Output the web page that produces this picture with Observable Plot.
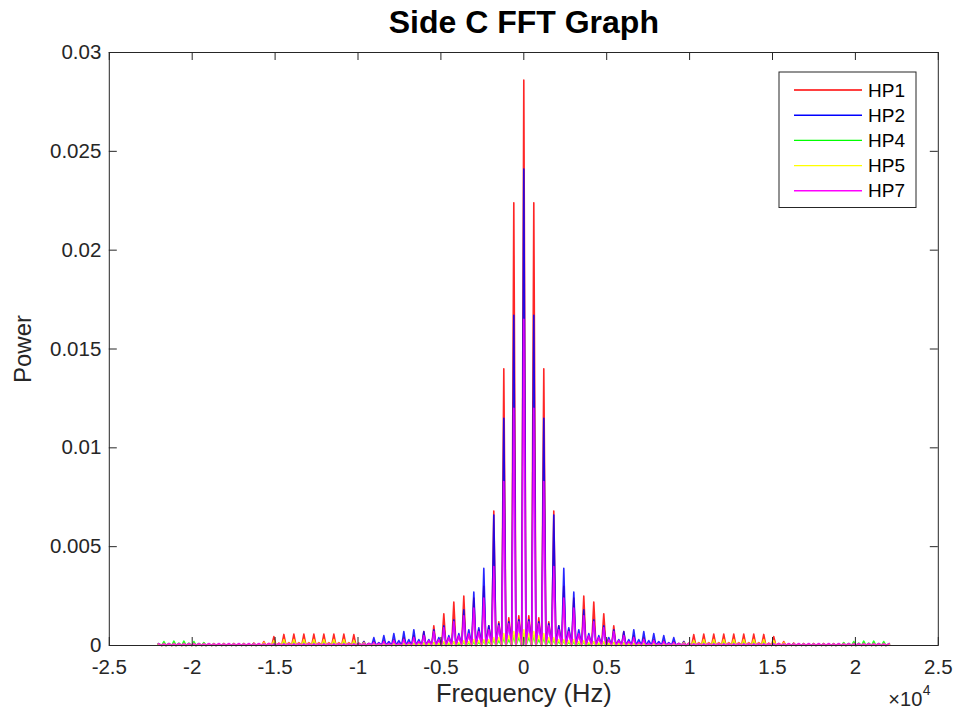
<!DOCTYPE html>
<html><head><meta charset="utf-8">
<script src="https://cdn.jsdelivr.net/npm/d3@7"></script>
<script src="https://cdn.jsdelivr.net/npm/@observablehq/plot@0.6"></script>
<style>
body{margin:0;background:#fff;}
#chart{position:relative;width:954px;height:713px;overflow:hidden;}
</style></head><body><div id="chart"></div>
<script>
// ---- data (power per harmonic bin, k = 0..36, mirrored for negative frequencies)
const seriesNames = ["HP1", "HP2", "HP4", "HP5", "HP7"];
const seriesColors = ["#ff0000", "#0000ff", "#00ff00", "#ffff00", "#ff00ff"];
const binSpacingHz = 603;
const nyquistHz = 22050;

const peaksHP1 = [0.0286, 0.0224, 0.0140, 0.0068, 0.0030, 0.0024, 0.0025, 0.0022, 0.0016, 0.0010, 0.0007, 0.0005, 0.0004, 0.0003, 0.00025, 0.0002, 0.0002, 0.00055, 0.00058, 0.00058, 0.00058, 0.00058, 0.00058, 0.00058, 0.00056, 0.00045, 0.0002, 0.00012, 0.0001, 0.0001, 0.0001, 0.00008, 0.00008, 0.00008, 0.00008, 0.00008, 0.00006];
const peaksHP2 = [0.0241, 0.0167, 0.0115, 0.0066, 0.0039, 0.0027, 0.0018, 0.0013, 0.0010, 0.0008, 0.0007, 0.0008, 0.0007, 0.0006, 0.0005, 0.0004, 0.0002, 0.00012, 0.0001, 0.0001, 0.0001, 0.0001, 0.0001, 0.0001, 0.0001, 0.0001, 0.0001, 0.0001, 0.00008, 0.00008, 0.00008, 0.00008, 0.00008, 0.00008, 0.00008, 0.00008, 0.00006];
const peaksHP4 = [0.0006, 0.0005, 0.0004, 0.0003, 0.00025, 0.0002, 0.0002, 0.00018, 0.00015, 0.00015, 0.00012, 0.0001, 0.0001, 0.0001, 0.0001, 0.0001, 0.00015, 0.0002, 0.0002, 0.0002, 0.0002, 0.0002, 0.0002, 0.0002, 0.0002, 0.00015, 0.0001, 0.0001, 0.0001, 0.0001, 0.0001, 0.0001, 0.00015, 0.0002, 0.00022, 0.00022, 0.0002];
const peaksHP5 = [0.0008, 0.0007, 0.0006, 0.0004, 0.0003, 0.0003, 0.00025, 0.0002, 0.0002, 0.00015, 0.00012, 0.0001, 0.0001, 0.0001, 0.0001, 0.0001, 0.00015, 0.00025, 0.0003, 0.0003, 0.0003, 0.0003, 0.0003, 0.0003, 0.0003, 0.00025, 0.00015, 0.0001, 0.0001, 0.0001, 0.0001, 0.0001, 0.0001, 0.0001, 0.0001, 0.0001, 0.0001];
const peaksHP7 = [0.0165, 0.0120, 0.0083, 0.0040, 0.0024, 0.0019, 0.0015, 0.0012, 0.0009, 0.0007, 0.0005, 0.0004, 0.0003, 0.00025, 0.0002, 0.00015, 0.00012, 0.0001, 0.0001, 0.0001, 0.0001, 0.0001, 0.0001, 0.0001, 0.0001, 0.0001, 0.0001, 0.0001, 0.0001, 0.0001, 0.0001, 0.0001, 0.0001, 0.0001, 0.0001, 0.0001, 0.0001];

// side-lobe level between harmonic k and k+1 (k = 0..35)
const lobesHP1 = [0.0015, 0.0014, 0.0012, 0.0010, 0.0008, 0.0006, 0.0005, 0.0004, 0.0003, 0.00025, 0.0002, 0.00015, 0.0001, 0.0001, 0.0001, 0.0001, 0.00012, 0.00015, 0.00015, 0.00015, 0.00015, 0.00015, 0.00015, 0.00015, 0.00012, 0.0001, 0.00008, 0.00006, 0.00006, 0.00006, 0.00006, 0.00006, 0.00006, 0.00006, 0.00006, 0.00006];
const lobesHP2 = [0.0013, 0.0012, 0.0011, 0.0010, 0.0009, 0.0008, 0.0006, 0.0005, 0.0004, 0.0003, 0.0003, 0.0003, 0.00025, 0.0002, 0.00015, 0.0001, 0.00008, 0.00006, 0.00006, 0.00006, 0.00006, 0.00006, 0.00006, 0.00006, 0.00006, 0.00006, 0.00006, 0.00006, 0.00006, 0.00006, 0.00006, 0.00006, 0.00006, 0.00006, 0.00006, 0.00006];
const lobesHP4 = [0.0004, 0.0003, 0.00025, 0.0002, 0.00015, 0.00012, 0.0001, 0.0001, 0.00008, 0.00008, 0.00006, 0.00006, 0.00006, 0.00006, 0.00006, 0.00006, 0.00008, 0.0001, 0.0001, 0.0001, 0.0001, 0.0001, 0.0001, 0.0001, 0.00008, 0.00006, 0.00006, 0.00006, 0.00006, 0.00006, 0.00006, 0.00008, 0.0001, 0.00012, 0.00012, 0.0001];
const lobesHP5 = [0.0006, 0.0005, 0.0004, 0.0003, 0.00025, 0.0002, 0.00015, 0.00012, 0.0001, 0.0001, 0.00008, 0.00008, 0.00006, 0.00006, 0.00006, 0.00006, 0.00008, 0.00012, 0.00012, 0.00012, 0.00012, 0.00012, 0.00012, 0.00012, 0.0001, 0.00008, 0.00006, 0.00006, 0.00006, 0.00006, 0.00006, 0.00006, 0.00006, 0.00006, 0.00006, 0.00006];
const lobesHP7 = [0.0012, 0.0011, 0.0010, 0.0008, 0.0007, 0.0006, 0.0005, 0.0004, 0.0003, 0.00025, 0.0002, 0.00015, 0.0001, 0.0001, 0.0001, 0.0001, 0.0001, 0.0001, 0.0001, 0.0001, 0.0001, 0.0001, 0.0001, 0.0001, 0.0001, 0.0001, 0.0001, 0.0001, 0.0001, 0.0001, 0.0001, 0.0001, 0.0001, 0.0001, 0.0001, 0.0001];

const xTicks = [-25000, -20000, -15000, -10000, -5000, 0, 5000, 10000, 15000, 20000, 25000];
const yTicks = [0, 0.005, 0.01, 0.015, 0.02, 0.025, 0.03];
const titleText = "Side C FFT Graph";
const xLabel = "Frequency (Hz)";
const yLabel = "Power";

// ---- build line tables from the arrays
const peakSets = [peaksHP1, peaksHP2, peaksHP4, peaksHP5, peaksHP7];
const lobeSets = [lobesHP1, lobesHP2, lobesHP4, lobesHP5, lobesHP7];
const spikeHalfWidth = 130;
function spectrum(name, peaks, lobes) {
  const K = peaks.length - 1;
  const pts = [{series: name, f: -nyquistHz, p: lobes[K - 1]}];
  for (let k = -K; k <= K; k++) {
    const f = k * binSpacingHz;
    pts.push({series: name, f: f - spikeHalfWidth, p: 0});
    pts.push({series: name, f: f, p: peaks[Math.abs(k)]});
    pts.push({series: name, f: f + spikeHalfWidth, p: 0});
    if (k < K) pts.push({series: name, f: f + binSpacingHz / 2, p: lobes[k >= 0 ? k : -(k + 1)]});
  }
  pts.push({series: name, f: nyquistHz, p: lobes[K - 1]});
  return pts;
}
const tables = seriesNames.map((n, i) => spectrum(n, peakSets[i], lobeSets[i]));

const W = 954, H = 713, mL = 108.8, mR = 16.2, mT = 52, mB = 68;
const innerW = W - mL - mR, innerH = H - mT - mB, tickLen = 8;
const axisColor = "#262626";
const font = "'Liberation Sans', Arial, Helvetica, sans-serif";

const plot = Plot.plot({
  width: W, height: H,
  marginLeft: mL, marginRight: mR, marginTop: mT, marginBottom: mB,
  style: {fontFamily: font, background: "#fff", color: axisColor, overflow: "visible"},
  x: {domain: [-25000, 25000]},
  y: {domain: [0, 0.03]},
  marks: [
    ...tables.map((t, i) => Plot.line(t, {x: "f", y: "p", stroke: seriesColors[i], strokeWidth: 1.6, strokeOpacity: 0.85})),
    Plot.frame({stroke: axisColor, strokeWidth: 1}),
    Plot.ruleX(xTicks, {stroke: axisColor, insetTop: innerH - tickLen}),
    Plot.ruleX(xTicks, {stroke: axisColor, insetBottom: innerH - tickLen}),
    Plot.ruleY(yTicks, {stroke: axisColor, insetRight: innerW - tickLen}),
    Plot.ruleY(yTicks, {stroke: axisColor, insetLeft: innerW - tickLen}),
    Plot.axisX({ticks: xTicks, tickSize: 0, tickPadding: 14, tickFormat: d => String(d / 1e4), fontSize: 20.5, label: null, fill: axisColor}),
    Plot.axisY({ticks: yTicks, tickSize: 0, tickPadding: 8, tickFormat: d => String(d), fontSize: 20.5, label: null, fill: axisColor}),
    Plot.text([titleText], {frameAnchor: "top", lineAnchor: "middle", dy: -30, text: d => d, fontSize: 32, fontWeight: "bold", fill: "#000"}),
    Plot.text([xLabel], {frameAnchor: "bottom", lineAnchor: "middle", dy: 48, text: d => d, fontSize: 25.5, fill: axisColor}),
    Plot.text([yLabel], {frameAnchor: "left", lineAnchor: "middle", textAnchor: "middle", dx: -86, rotate: -90, text: d => d, fontSize: 24, fill: axisColor}),
    Plot.text(["\u00d710"], {frameAnchor: "bottom-right", lineAnchor: "middle", dx: -16, dy: 54, textAnchor: "end", text: d => d, fontSize: 20, fill: axisColor}),
    Plot.text(["4"], {frameAnchor: "bottom-right", lineAnchor: "middle", dx: -15.5, dy: 45, textAnchor: "start", text: d => d, fontSize: 14, fill: axisColor})
  ]
});
document.getElementById("chart").appendChild(plot);

// ---- legend (box in the upper-right corner of the axes)
const svg = d3.select(plot);
const lg = svg.append("g").attr("transform", "translate(779,72)");
lg.append("rect").attr("width", 137).attr("height", 135.5).attr("fill", "#fff").attr("stroke", axisColor).attr("stroke-width", 1);
seriesNames.forEach((n, i) => {
  const cy = 18 + i * 25.2;
  lg.append("line").attr("x1", 15).attr("x2", 83).attr("y1", cy).attr("y2", cy).attr("stroke", seriesColors[i]).attr("stroke-width", 1.4);
  lg.append("text").attr("x", 89).attr("y", cy).attr("dy", "0.35em").attr("text-anchor", "start").attr("font-size", 19).attr("font-family", font).attr("fill", "#000").text(n);
});
</script></body></html>
